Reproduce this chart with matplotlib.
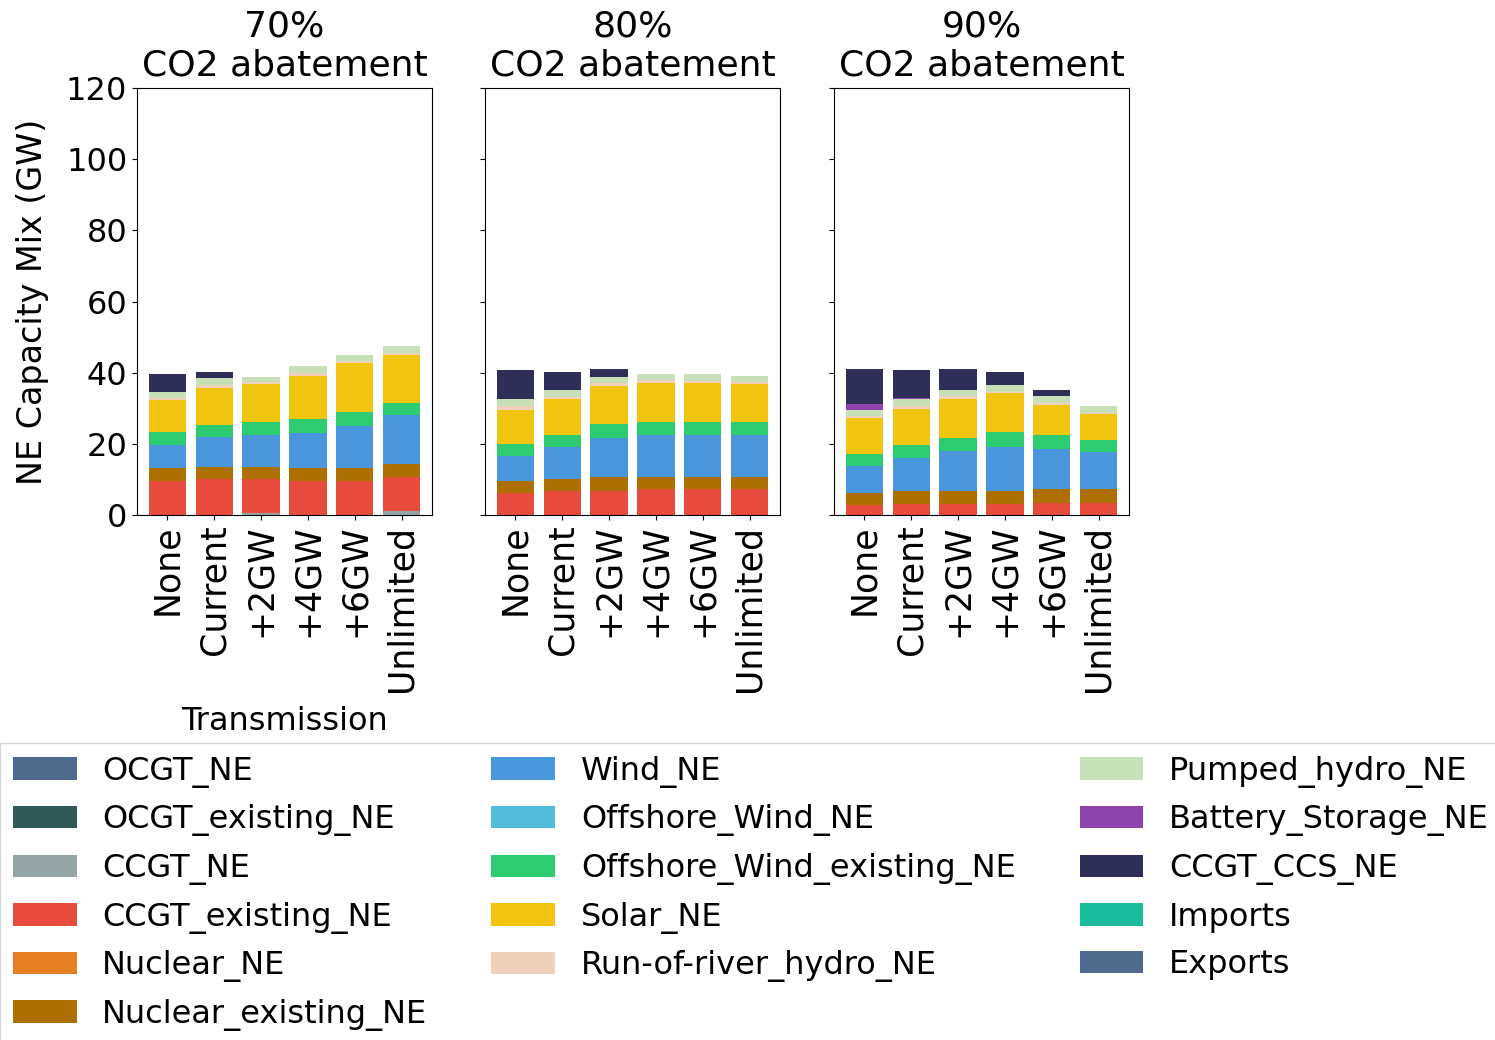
import numpy as np
import matplotlib
matplotlib.use('Agg')
import matplotlib.pyplot as plt
from matplotlib.patches import Patch

# Data (GW), per technology: 6 transmission cases for each abatement level
scenarios = ['70%\nCO2 abatement', '80%\nCO2 abatement', '90%\nCO2 abatement']
transmission = ['None', 'Current', '+2GW', '+4GW', '+6GW', 'Unlimited']

techs = ['OCGT_NE', 'OCGT_existing_NE', 'CCGT_NE', 'CCGT_existing_NE', 'Nuclear_NE',
         'Nuclear_existing_NE', 'Wind_NE', 'Offshore_Wind_NE', 'Offshore_Wind_existing_NE',
         'Solar_NE', 'Run-of-river_hydro_NE', 'Pumped_hydro_NE', 'Battery_Storage_NE',
         'CCGT_CCS_NE', 'Imports', 'Exports']
colors = ['#4e6a8d', '#2f5a57', '#95a5a6', '#e74c3c', '#e67e22', '#ad7000',
          '#4a96dd', '#52bddb', '#2ecc71', '#f1c40f', '#f0d0bb', '#c8e0b8',
          '#8e44ad', '#2e2e58', '#1abc9c', '#4e6a8d']

ocgt = [[0] * 6, [0] * 6, [0] * 6]
ocgt_existing = [[0] * 6, [0] * 6, [0] * 6]
ccgt = [[0, 0, 0.6, 0, 0, 1.1], [0] * 6, [0] * 6]
ccgt_existing = [[9.6, 10.2, 9.6, 9.6, 9.6, 9.6],
                 [6.3, 6.8, 6.8, 7.2, 7.2, 7.2],
                 [2.8, 3.0, 3.0, 3.0, 3.5, 3.5]]
nuclear = [[0] * 6, [0] * 6, [0] * 6]
nuclear_existing = [[3.5, 3.3, 3.3, 3.5, 3.5, 3.6],
                    [3.3, 3.4, 4.0, 3.6, 3.6, 3.6],
                    [3.4, 3.8, 3.8, 3.8, 3.7, 3.7]]
wind = [[6.5, 8.5, 9.1, 10.0, 11.8, 13.8],
        [6.9, 9.0, 10.9, 11.8, 11.8, 11.8],
        [7.5, 9.2, 11.3, 12.4, 11.4, 10.4]]
offshore_wind = [[0] * 6, [0] * 6, [0] * 6]
offshore_wind_existing = [[3.6, 3.4, 3.4, 4.0, 4.1, 3.5],
                          [3.5, 3.4, 4.0, 3.6, 3.6, 3.6],
                          [3.4, 3.6, 3.5, 4.0, 4.0, 3.5]]
solar = [[9.1, 10.3, 10.8, 12.1, 13.6, 13.5],
         [9.6, 10.0, 10.6, 11.0, 10.8, 10.6],
         [10.2, 10.1, 11.0, 11.0, 8.2, 7.2]]
run_of_river = [[0.7, 0.8, 0.5, 0.8, 0.6, 0.5],
                [1.0, 0.6, 0.7, 0.7, 0.7, 0.6],
                [0.4, 0.9, 0.8, 0.5, 0.7, 0.4]]
pumped_hydro = [[1.5, 1.9, 1.6, 2.0, 1.9, 1.9],
                [1.9, 1.9, 1.7, 1.7, 1.9, 1.8],
                [1.7, 1.9, 1.7, 1.9, 2.0, 1.9]]
battery = [[0] * 6,
           [0.2, 0, 0, 0, 0, 0],
           [1.7, 0.4, 0, 0, 0, 0]]
ccgt_ccs = [[5.1, 1.7, 0, 0, 0, 0],
            [8.1, 5.1, 2.4, 0, 0, 0],
            [9.8, 7.9, 5.8, 3.6, 1.6, 0]]
imports = [[0] * 6, [0] * 6, [0] * 6]
exports = [[0] * 6, [0] * 6, [0] * 6]

series = [ocgt, ocgt_existing, ccgt, ccgt_existing, nuclear, nuclear_existing, wind,
          offshore_wind, offshore_wind_existing, solar, run_of_river, pumped_hydro,
          battery, ccgt_ccs, imports, exports]

plt.rcParams['font.family'] = 'DejaVu Sans'
plt.rcParams['font.size'] = 23

fig = plt.figure(figsize=(14.95, 10.4), dpi=100)
W, H = 1495, 1040
lefts = [137, 485, 834]
axes = []
for i, left in enumerate(lefts):
    ax = fig.add_axes([left / W, 1 - 515 / H, 295 / W, 427 / H],
                      sharey=axes[0] if axes else None)
    axes.append(ax)
    x = np.arange(len(transmission))
    bottom = np.zeros(len(transmission))
    for vals, c in zip(series, colors):
        v = np.array(vals[i], dtype=float)
        ax.bar(x, v, 0.8, bottom=bottom, color=c)
        bottom += v
    ax.set_xticks(x)
    ax.set_xticklabels(transmission, rotation=90, fontsize=25)
    ax.tick_params(axis='y', labelsize=23)
    ax.set_xlim(-0.65, 5.65)
    ax.set_title(scenarios[i], fontsize=26, pad=9, linespacing=1.2)
    if i > 0:
        plt.setp(ax.get_yticklabels(), visible=False)

axes[0].set_ylim(0, 120)
axes[0].set_yticks(np.arange(0, 121, 20))
axes[0].set_ylabel('NE Capacity Mix (GW)', fontsize=24, labelpad=12)
axes[0].set_xlabel('Transmission', fontsize=23, labelpad=10)

handles = [Patch(facecolor=c, label=t) for t, c in zip(techs, colors)]
fig.legend(handles=handles, loc='upper left', bbox_to_anchor=(0, 1 - 743 / H),
           ncol=3, fontsize=23, handlelength=2.0, handletextpad=0.8,
           columnspacing=2.0, labelspacing=0.52, borderaxespad=0, fancybox=False)

fig.savefig('out.png', dpi=100)
